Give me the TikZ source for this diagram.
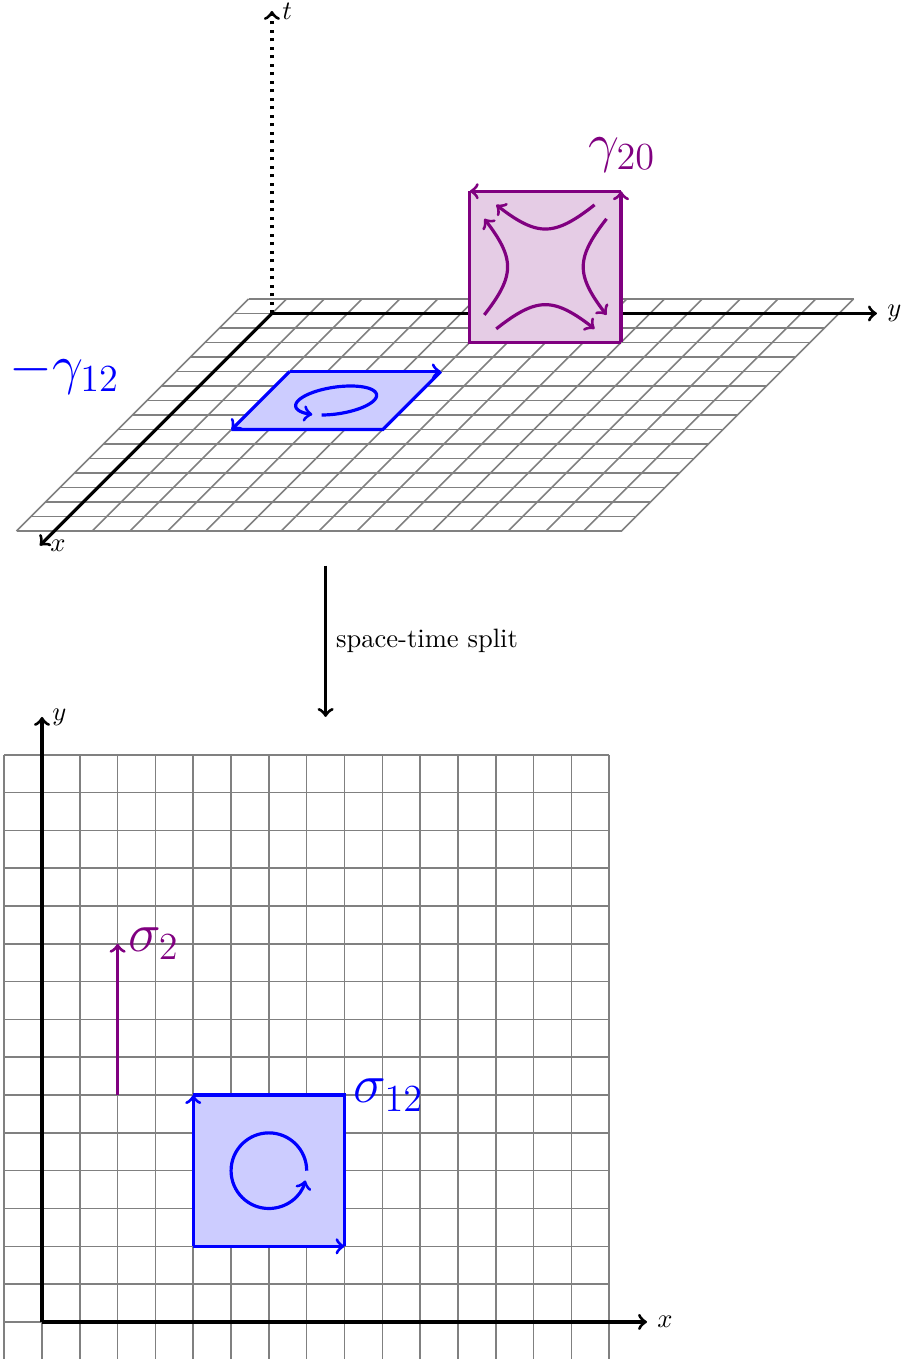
\documentclass[tikz,border=0pt]{standalone}
\begin{document}
\begin{tikzpicture}[x=0.5cm,y=0.5cm,
  gridline/.style={gray, line width=0.6pt},
  axisline/.style={very thick,->},
  edge/.style={very thick},
  biglabel/.style={font=\huge}]
\useasboundingbox (-1.111,-0.98) rectangle (22.80,34.96);
% ---------- bottom: space split ----------
\foreach \i in {-1,...,15} {
  \draw[gridline] (\i,-1) -- (\i,15);
  \draw[gridline] (-1,\i) -- (15,\i);
}
\coordinate (O) at (0,0);
\coordinate (Xend) at (16,0);
\coordinate (Yend) at (0,16);
\draw[axisline] (O) -- (Xend) node[right] (xl) {$x$};
\draw[axisline] (O) -- (Yend) node[right] (yl) {$y$};
\coordinate (s2a) at (2,6);
\coordinate (s2b) at (2,10);
\draw[violet, edge, ->] (s2a) -- (s2b) node[right, biglabel] (s2) {$\sigma_2$};
\fill[blue!20] (4,2) rectangle (8,6);
\draw[blue, edge] (8,2) -- (8,6) -- (4,6);
\draw[blue, edge, ->] (4,2) -- (8,2);
\draw[blue, edge, ->] (4,2) -- (4,6);
\node[right, blue, biglabel] (s12) at (8,6) {$\sigma_{12}$};
\draw[blue, edge, ->] (7,4) arc[start angle=0, end angle=345, radius=1];
% ---------- split arrow ----------
\coordinate (splittop) at (7.5,20);
\coordinate (splitbot) at (7.5,16);
\draw[very thick, ->] (splittop) -- (splitbot) node[midway, right] (spl) {space-time split};
% ---------- top: space-time ----------
\begin{scope}[shift={(3.04cm,13.335cm)}, x={(-0.1918cm,-0.1918cm)}, y={(0.5cm,0cm)}, z={(0cm,0.5cm)}]
  \foreach \i in {-1,...,15} {
    \draw[gridline] (\i,-1,0) -- (\i,15,0);
    \draw[gridline] (-1,\i,0) -- (15,\i,0);
  }
  \draw[axisline] (0,0,0) -- (16,0,0) node[right] (xt) {$x$};
  \draw[axisline] (0,0,0) -- (0,16,0) node[right] (yt) {$y$};
  \draw[axisline, dotted] (0,0,0) -- (0,0,8) node[right] (tt) {$t$};
  % blue bivector
  \fill[blue!20] (4,2,0) -- (8,2,0) -- (8,6,0) -- (4,6,0) -- cycle;
  \draw[blue, edge] (8,2,0) -- (8,6,0) -- (4,6,0);
  \draw[blue, edge, ->] (4,2,0) -- (8,2,0);
  \draw[blue, edge, ->] (4,2,0) -- (4,6,0);
  \draw[blue, edge, ->] plot[domain=0:345, samples=70, smooth] ({6+cos(\x)},{4+sin(\x)},0);
  % violet bivector
  \fill[violet!20] (2,6,0) -- (2,10,0) -- (2,10,4) -- (2,6,4) -- cycle;
  \draw[violet, edge] (2,6,4) -- (2,6,0) -- (2,10,0);
  \draw[violet, edge, ->] (2,10,0) -- (2,10,4);
  \draw[violet, edge, ->] (2,10,4) -- (2,6,4);
  \draw[violet, edge, ->] plot[domain=-1.3:1.3, samples=40, smooth] ({2},{8-\x},{2+sqrt(1+\x*\x)});
  \draw[violet, edge, ->] plot[domain=-1.27:1.27, samples=40, smooth] ({2},{8-sqrt(1+\x*\x)},{2+\x});
  \draw[violet, edge, ->] plot[domain=-1.3:1.3, samples=40, smooth] ({2},{8+\x},{2-sqrt(1+\x*\x)});
  \draw[violet, edge, ->] plot[domain=-1.27:1.27, samples=40, smooth] ({2},{8+sqrt(1+\x*\x)},{2-\x});
\end{scope}
\node[anchor=base west, inner sep=0pt, violet, biglabel] (g20) at (14.44,30.69) {$\gamma_{20}$};
\node[anchor=base west, inner sep=0pt, blue, biglabel] (g12) at (-0.873,24.82) {$-\gamma_{12}$};
\end{tikzpicture}
\end{document}
